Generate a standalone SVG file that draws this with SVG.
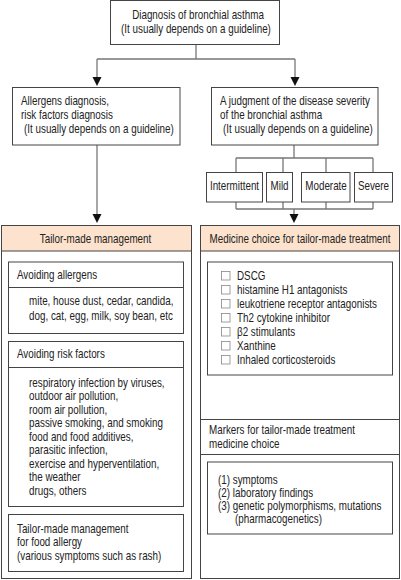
<svg xmlns="http://www.w3.org/2000/svg" width="401" height="580" viewBox="0 0 401 580">
<defs>
<style>
text{font-family:"Liberation Sans",Arial,sans-serif;font-size:12px;fill:#222}
.c{text-anchor:middle}
.box{fill:#fff;stroke:#444;stroke-width:1}
.hdr{fill:#fde2cd;stroke:#444;stroke-width:1}
.ln{fill:none;stroke:#777;stroke-width:1.3}
.cb{fill:#fff;stroke:#888;stroke-width:0.8}
.ah{fill:#111}
</style>
</defs>
<rect width="401" height="580" fill="#fff"/>
<g id="connectors">
<path class="ln" d="M196,44 V59 M97,59 H295 M97,59 V78 M295,59 V78"/>
<polygon class="ah" points="92.5,77 101.5,77 97,86"/>
<polygon class="ah" points="290.5,77 299.5,77 295,86"/>
<path class="ln" d="M97,145 V215"/>
<polygon class="ah" points="92.5,214 101.5,214 97,223"/>
<path class="ln" d="M294,145 V158 M236,158 H373 M236,158 V172 M283,158 V172 M326,158 V172 M373,158 V172"/>
<path class="ln" d="M236,202 V209 M283,202 V209 M326,202 V209 M373,202 V209 M236,209 H373 M294,209 V215"/>
<polygon class="ah" points="289.5,214 298.5,214 294,223"/>
</g>
<g id="diagnosis">
<rect class="box" x="110.5" y="0.5" width="169" height="44"/>
<g transform="scale(0.82 1)">
<text class="c" x="241.5" y="19">Diagnosis of bronchial asthma</text>
<text class="c" x="239" y="33">(It usually depends on a guideline)</text>
</g>
</g>
<g id="allergens-diagnosis">
<rect class="box" x="12.5" y="87.5" width="167.5" height="57.5"/>
<g transform="scale(0.82 1)">
<text x="25.6" y="105">Allergens diagnosis,</text>
<text x="25.6" y="119">risk factors diagnosis</text>
<text x="29.3" y="133">(It usually depends on a guideline)</text>
</g>
</g>
<g id="severity-judgment">
<rect class="box" x="211.5" y="87.5" width="166.5" height="57.5"/>
<g transform="scale(0.82 1)">
<text x="268.3" y="105">A judgment of the disease severity</text>
<text x="268.3" y="119">of the bronchial asthma</text>
<text x="272" y="133">(It usually depends on a guideline)</text>
</g>
</g>
<g id="intermittent">
<rect class="box" x="206.5" y="172.5" width="56" height="29.5"/>
<text class="c" x="286" y="190" transform="scale(0.82 1)">Intermittent</text>
</g>
<g id="mild">
<rect class="box" x="266.5" y="172.5" width="26" height="29.5"/>
<text class="c" x="340.9" y="190" transform="scale(0.82 1)">Mild</text>
</g>
<g id="moderate">
<rect class="box" x="301.5" y="172.5" width="48.5" height="29.5"/>
<text class="c" x="397.6" y="190" transform="scale(0.82 1)">Moderate</text>
</g>
<g id="severe">
<rect class="box" x="354.5" y="172.5" width="38" height="29.5"/>
<text class="c" x="455.5" y="190" transform="scale(0.82 1)">Severe</text>
</g>
<g id="tailor-made-management">
<rect class="box" x="1.5" y="225.5" width="190" height="353"/>
<rect class="hdr" x="1.5" y="225.5" width="190" height="25.5"/>
<text class="c" x="116.5" y="243" transform="scale(0.82 1)">Tailor-made management</text>
</g>
<g id="avoiding-allergens">
<rect class="box" x="8.5" y="262" width="175" height="71.5"/>
<line x1="8.5" y1="287.5" x2="183.5" y2="287.5" stroke="#444"/>
<g transform="scale(0.82 1)">
<text x="20.7" y="279">Avoiding allergens</text>
<text x="35.4" y="305">mite, house dust, cedar, candida,</text>
<text x="35.4" y="320">dog, cat, egg, milk, soy bean, etc</text>
</g>
</g>
<g id="avoiding-risk-factors">
<rect class="box" x="8.5" y="341.5" width="175" height="165"/>
<line x1="8.5" y1="367.5" x2="183.5" y2="367.5" stroke="#444"/>
<g transform="scale(0.82 1)">
<text x="20.7" y="358">Avoiding risk factors</text>
<text x="35.4" y="387">respiratory infection by viruses,</text>
<text x="35.4" y="400.5">outdoor air pollution,</text>
<text x="35.4" y="414">room air pollution,</text>
<text x="35.4" y="427.5">passive smoking, and smoking</text>
<text x="35.4" y="441">food and food additives,</text>
<text x="35.4" y="454.5">parasitic infection,</text>
<text x="35.4" y="468">exercise and hyperventilation,</text>
<text x="35.4" y="481.5">the weather</text>
<text x="35.4" y="495">drugs, others</text>
</g>
</g>
<g id="food-allergy">
<rect class="box" x="8.5" y="514.5" width="175" height="57"/>
<g transform="scale(0.82 1)">
<text x="20.7" y="533">Tailor-made management</text>
<text x="20.7" y="546.5">for food allergy</text>
<text x="20.7" y="560">(various symptoms such as rash)</text>
</g>
</g>
<g id="medicine-choice">
<rect class="box" x="200.5" y="225.5" width="199" height="353"/>
<rect class="hdr" x="200.5" y="225.5" width="199" height="25.5"/>
<text class="c" x="365.9" y="243" transform="scale(0.82 1)">Medicine choice for tailor-made treatment</text>
</g>
<g id="medicine-list">
<rect class="box" x="207.5" y="262" width="185" height="113"/>
<rect class="cb" x="221.5" y="271.5" width="8.5" height="8.5"/>
<rect class="cb" x="221.5" y="285.5" width="8.5" height="8.5"/>
<rect class="cb" x="221.5" y="299.5" width="8.5" height="8.5"/>
<rect class="cb" x="221.5" y="313.5" width="8.5" height="8.5"/>
<rect class="cb" x="221.5" y="327.5" width="8.5" height="8.5"/>
<rect class="cb" x="221.5" y="341.5" width="8.5" height="8.5"/>
<rect class="cb" x="221.5" y="355.5" width="8.5" height="8.5"/>
<g transform="scale(0.82 1)">
<text x="289" y="280">DSCG</text>
<text x="289" y="294">histamine H1 antagonists</text>
<text x="289" y="308">leukotriene receptor antagonists</text>
<text x="289" y="322">Th2 cytokine inhibitor</text>
<text x="289" y="336">β2 stimulants</text>
<text x="289" y="350">Xanthine</text>
<text x="289" y="364">Inhaled corticosteroids</text>
</g>
</g>
<g id="markers">
<line x1="200.5" y1="419.5" x2="399.5" y2="419.5" stroke="#444"/>
<line x1="200.5" y1="454.5" x2="399.5" y2="454.5" stroke="#444"/>
<g transform="scale(0.82 1)">
<text x="254.9" y="434">Markers for tailor-made treatment</text>
<text x="254.9" y="448">medicine choice</text>
</g>
</g>
<g id="marker-list">
<rect class="box" x="207.5" y="462" width="185" height="72"/>
<g transform="scale(0.82 1)">
<text x="265.9" y="484">(1) symptoms</text>
<text x="265.9" y="497">(2) laboratory findings</text>
<text x="265.9" y="510">(3) genetic polymorphisms, mutations</text>
<text x="286.6" y="523">(pharmacogenetics)</text>
</g>
</g>
</svg>
